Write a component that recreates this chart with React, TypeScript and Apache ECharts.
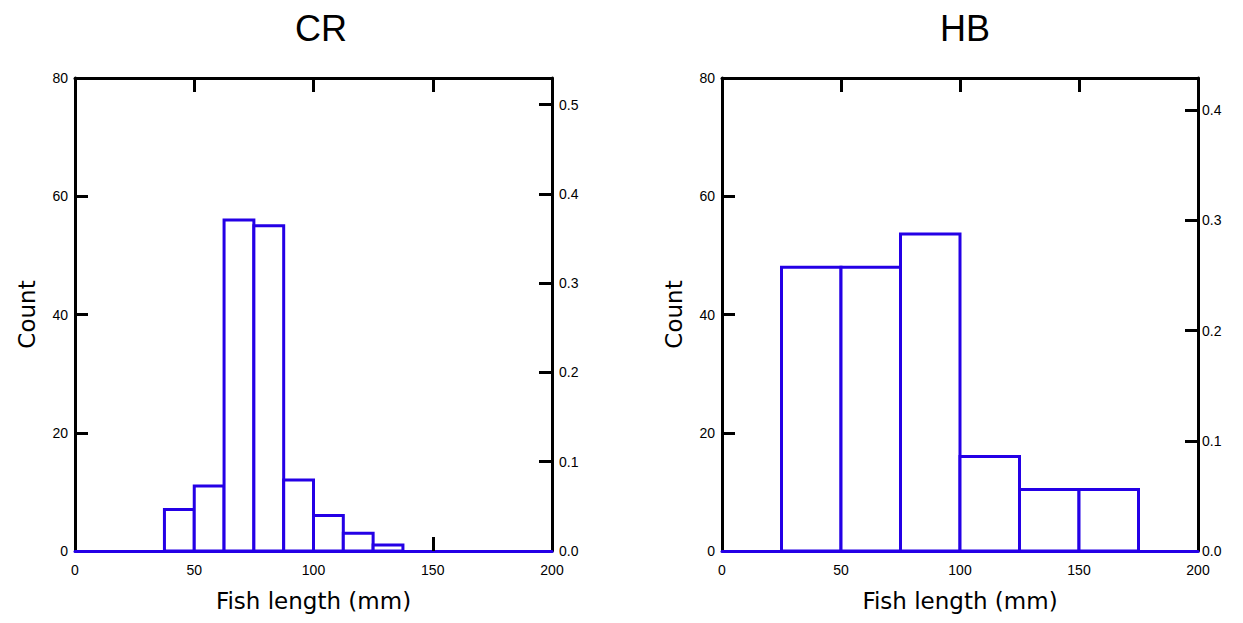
import React, { useEffect, useRef } from "react";
import * as echarts from "echarts";

// ---- Data ----
const PANEL_TITLES = ["CR", "HB"];
const X_TICKS = [0, 50, 100, 150, 200];
const X_INNER_TICKS = [50, 100, 150];
const COUNT_TICKS = [0, 20, 40, 60, 80];
const COUNT_INNER_TICKS = [20, 40, 60];

const CR_BIN_STARTS = [37.5, 50, 62.5, 75, 87.5, 100, 112.5, 125];
const CR_BIN_WIDTH = 12.5;
const CR_COUNTS = [7, 11, 56, 55, 12, 6, 3, 1];
const CR_PROP_TICKS = [0, 0.1, 0.2, 0.3, 0.4, 0.5];
const CR_PROP_INNER_TICKS = [0.1, 0.2, 0.3, 0.4, 0.5];

const HB_BIN_STARTS = [25, 50, 75, 100, 125, 150];
const HB_BIN_WIDTH = 25;
const HB_COUNTS = [48, 48, 53.6, 16, 10.4, 10.4];
const HB_PROP_TICKS = [0, 0.1, 0.2, 0.3, 0.4];
const HB_PROP_INNER_TICKS = [0.1, 0.2, 0.3, 0.4];

const X_LABEL = "Fish length (mm)";
const Y_LABEL = "Count";

const BLUE = "#2400E6";
const BLACK = "#000000";

const sum = (a: number[]) => a.reduce((s, v) => s + v, 0);

function binsData(starts: number[], width: number, counts: number[]) {
  return starts.map((s, i) => [s, s + width, counts[i]]);
}

const renderBin = (params: any, api: any) => {
  const x0 = api.value(0);
  const x1 = api.value(1);
  const c = api.value(2);
  const p0 = api.coord([x0, c]);
  const p1 = api.coord([x1, 0]);
  return {
    type: "rect",
    shape: { x: p0[0], y: p0[1], width: p1[0] - p0[0], height: p1[1] - p0[1] },
    style: { fill: "#ffffff", stroke: BLUE, lineWidth: 3 },
  };
};

const tickFont = { fontFamily: "Liberation Sans", fontSize: 14, color: BLACK };
const nameFont = { fontFamily: "DejaVu Sans", fontSize: 23, color: BLACK };

function bottomX(gridIndex: number) {
  return {
    type: "value",
    gridIndex,
    position: "bottom",
    min: 0,
    max: 200,
    interval: 50,
    axisLine: { show: true, onZero: false, lineStyle: { color: BLUE, width: 3 } },
    axisTick: {
      show: true,
      inside: true,
      length: 14,
      customValues: X_INNER_TICKS,
      lineStyle: { color: BLACK, width: 3 },
    },
    axisLabel: { ...tickFont, margin: 12, customValues: X_TICKS },
    splitLine: { show: false },
    name: X_LABEL,
    nameLocation: "middle",
    nameGap: 38,
    nameTextStyle: nameFont,
    z: 0,
  };
}

function topX(gridIndex: number) {
  return {
    type: "value",
    gridIndex,
    position: "top",
    min: 0,
    max: 200,
    interval: 50,
    axisLine: { show: true, onZero: false, lineStyle: { color: BLACK, width: 3 } },
    axisTick: {
      show: true,
      inside: true,
      length: 14,
      customValues: X_INNER_TICKS,
      lineStyle: { color: BLACK, width: 3 },
    },
    axisLabel: { show: false },
    splitLine: { show: false },
  };
}

function leftY(gridIndex: number) {
  return {
    type: "value",
    gridIndex,
    position: "left",
    min: 0,
    max: 80,
    interval: 20,
    axisLine: { show: true, onZero: false, lineStyle: { color: BLACK, width: 3 } },
    axisTick: {
      show: true,
      inside: true,
      length: 13,
      customValues: COUNT_INNER_TICKS,
      lineStyle: { color: BLACK, width: 3 },
    },
    axisLabel: { ...tickFont, margin: 7, customValues: COUNT_TICKS },
    splitLine: { show: false },
    name: Y_LABEL,
    nameLocation: "middle",
    nameGap: 37,
    nameTextStyle: nameFont,
  };
}

function rightY(gridIndex: number, total: number, ticks: number[], innerTicks: number[], margin: number) {
  return {
    type: "value",
    gridIndex,
    position: "right",
    min: 0,
    max: 80 / total,
    axisLine: { show: true, onZero: false, lineStyle: { color: BLACK, width: 3 } },
    axisTick: {
      show: true,
      inside: true,
      length: 13,
      customValues: innerTicks,
      lineStyle: { color: BLACK, width: 3 },
    },
    axisLabel: {
      ...tickFont,
      margin,
      customValues: ticks,
      formatter: (v: number) => v.toFixed(1),
    },
    splitLine: { show: false },
  };
}

export default function App() {
  const ref = useRef<HTMLDivElement>(null);
  useEffect(() => {
    if (!ref.current) return;
    const chart = echarts.init(ref.current, null, { renderer: "svg" });
    const crTotal = sum(CR_COUNTS);
    const hbTotal = sum(HB_COUNTS);
    const titleStyle = { fontFamily: "Liberation Sans", fontSize: 36, fontWeight: "normal", color: BLACK };
    chart.setOption({
      animation: false,
      backgroundColor: "#ffffff",
      title: [
        { text: PANEL_TITLES[0], left: 316, top: 5, textAlign: "center", textStyle: titleStyle },
        { text: PANEL_TITLES[1], left: 960, top: 5, textAlign: "center", textStyle: titleStyle },
      ],
      grid: [
        { left: 75, top: 78, width: 477, height: 473, containLabel: false },
        { left: 722, top: 78, width: 476, height: 473, containLabel: false },
      ],
      xAxis: [bottomX(0), topX(0), bottomX(1), topX(1)],
      yAxis: [
        leftY(0),
        rightY(0, crTotal, CR_PROP_TICKS, CR_PROP_INNER_TICKS, 7),
        leftY(1),
        rightY(1, hbTotal, HB_PROP_TICKS, HB_PROP_INNER_TICKS, 4),
      ],
      series: [
        {
          type: "custom",
          xAxisIndex: 0,
          yAxisIndex: 0,
          renderItem: renderBin,
          data: binsData(CR_BIN_STARTS, CR_BIN_WIDTH, CR_COUNTS),
          encode: { x: [0, 1], y: 2 },
          silent: true,
        },
        {
          type: "custom",
          xAxisIndex: 2,
          yAxisIndex: 2,
          renderItem: renderBin,
          data: binsData(HB_BIN_STARTS, HB_BIN_WIDTH, HB_COUNTS),
          encode: { x: [0, 1], y: 2 },
          silent: true,
        },
      ],
    });
    return () => chart.dispose();
  }, []);
  return (
    <div
      ref={ref}
      style={{ position: "fixed", left: 0, top: 0, width: 1243, height: 623, background: "#fff" }}
    />
  );
}
